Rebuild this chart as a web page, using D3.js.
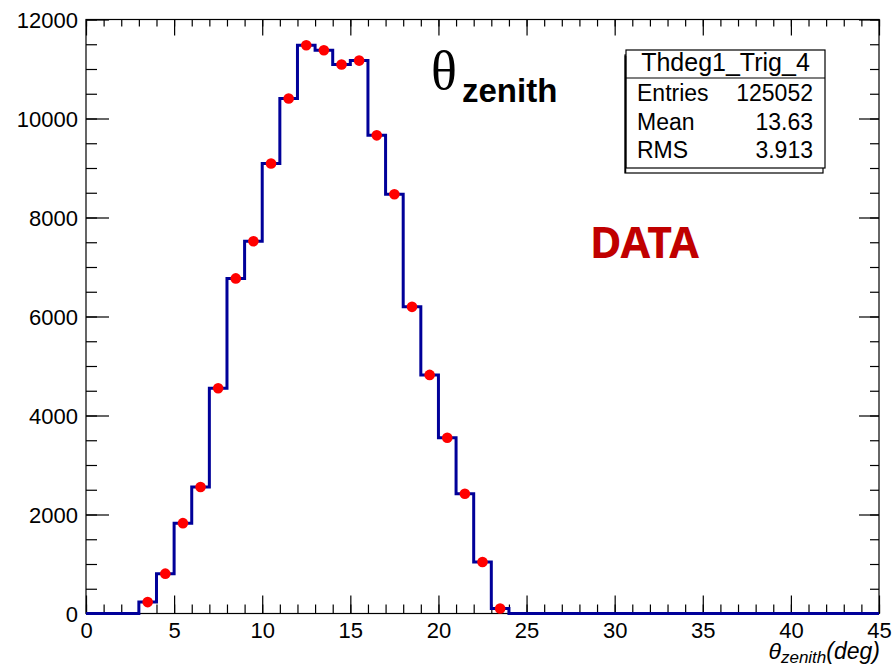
<!DOCTYPE html>
<html>
<head>
<meta charset="utf-8">
<script src="https://cdn.jsdelivr.net/npm/d3@7"></script>
<style>
  body { margin: 0; background: #fff; }
  text { font-family: "Liberation Sans", Arial, sans-serif; }
</style>
</head>
<body>
<div id="chart"></div>
<script>
// histogram: 45 bins of 1 degree, from 0 to 45
const binStart = 0
const binWidth = 1
const counts = [
  0, 0, 0, 230, 805, 1825, 2555, 4550, 6770, 7520,
  9090, 10405, 11480, 11380, 11090, 11170, 9660, 8470, 6195, 4820,
  3550, 2420, 1040, 100, 0, 0, 0, 0, 0, 0,
  0, 0, 0, 0, 0, 0, 0, 0, 0, 0,
  0, 0, 0, 0, 0
]
const xTicks = [0, 5, 10, 15, 20, 25, 30, 35, 40, 45]
const yTicks = [0, 2000, 4000, 6000, 8000, 10000, 12000]
const statLabels = ['Entries', 'Mean', 'RMS']
const statValues = ['125052', '13.63', '3.913']
const statTitle = 'Thdeg1_Trig_4'

const width = 893, height = 668
const padL = 86, padR = 879, padT = 19.5, padB = 613.5

const svg = d3.select('#chart')
  .append('svg')
  .attr('width', width)
  .attr('height', height)
  .style('background', '#fff')

const x = d3.scaleLinear().domain([0, 45]).range([padL, padR])
const y = d3.scaleLinear().domain([0, 12000]).range([padB, padT])

const minorX = d3.range(0, 46, 1)
const minorY = d3.range(0, 12001, 500)

// bottom axis, ticks pointing up
svg.append('g')
  .attr('transform', `translate(0,${padB})`)
  .call(d3.axisBottom(x).tickValues(minorX).tickSize(-9).tickFormat(''))
svg.append('g')
  .attr('transform', `translate(0,${padB})`)
  .call(d3.axisBottom(x).tickValues(xTicks).tickSize(-18).tickPadding(9).tickFormat(d3.format('d')))
// top ticks
svg.append('g')
  .attr('transform', `translate(0,${padT})`)
  .call(d3.axisTop(x).tickValues(minorX).tickSize(-7).tickFormat(''))
svg.append('g')
  .attr('transform', `translate(0,${padT})`)
  .call(d3.axisTop(x).tickValues(xTicks).tickSize(-16).tickFormat(''))

// left axis
svg.append('g')
  .attr('transform', `translate(${padL},0)`)
  .call(d3.axisLeft(y).tickValues(minorY).tickSize(-11).tickFormat(''))
svg.append('g')
  .attr('class', 'ymaj')
  .attr('transform', `translate(${padL},1)`)
  .call(d3.axisLeft(y).tickValues(yTicks).tickSize(-23).tickPadding(8).tickFormat(d3.format('d')))
// right ticks
svg.append('g')
  .attr('transform', `translate(${padR},0)`)
  .call(d3.axisRight(y).tickValues(minorY).tickSize(-9).tickFormat(''))
svg.append('g')
  .attr('transform', `translate(${padR},0)`)
  .call(d3.axisRight(y).tickValues(yTicks).tickSize(-20).tickFormat(''))

svg.selectAll('.domain').remove()
svg.selectAll('.tick line').attr('stroke', '#000').attr('stroke-width', 1.2)
// label ticks shifted by 1px, put their lines back
svg.selectAll('.ymaj .tick line').attr('transform', 'translate(0,-1)')
svg.selectAll('.tick text')
  .attr('fill', '#000')
  .style('font-size', '22px')
  .style('font-family', '"Liberation Sans", Arial, sans-serif')

// frame
svg.append('rect')
  .attr('x', padL).attr('y', padT)
  .attr('width', padR - padL).attr('height', padB - padT)
  .attr('fill', 'none')
  .attr('stroke', '#000')
  .attr('stroke-width', 1.2)

// histogram step line
const pts = [[binStart, 0]]
counts.forEach((c, i) => {
  const x0 = binStart + i * binWidth
  pts.push([x0, c], [x0 + binWidth, c])
})
pts.push([binStart + counts.length * binWidth, 0])

svg.append('path')
  .datum(pts)
  .attr('d', d3.line().x(d => x(d[0])).y(d => y(d[1])))
  .attr('fill', 'none')
  .attr('stroke', '#000099')
  .attr('stroke-width', 3)

// markers at bin centres
svg.selectAll('circle.pt')
  .data(counts.map((c, i) => ({ c, i })).filter(d => d.c > 0))
  .enter()
  .append('circle')
  .attr('class', 'pt')
  .attr('cx', d => x(binStart + (d.i + 0.5) * binWidth))
  .attr('cy', d => y(d.c))
  .attr('r', 5.3)
  .attr('fill', '#ff0000')

// stats box
const bx = 626, by = 50, bw = 199, bh = 118
svg.append('rect')
  .attr('x', bx - 1).attr('y', by + 5).attr('width', bw - 1).attr('height', bh)
  .attr('fill', '#fff').attr('stroke', '#000').attr('stroke-width', 1.2)
svg.append('rect')
  .attr('x', bx).attr('y', by).attr('width', bw).attr('height', bh)
  .attr('fill', '#fff').attr('stroke', '#000').attr('stroke-width', 1.2)
svg.append('line')
  .attr('x1', bx - 0.5).attr('x2', bx - 0.5).attr('y1', by + 6).attr('y2', by + bh + 5)
  .attr('stroke', '#000').attr('stroke-width', 1.5)
svg.append('line')
  .attr('x1', bx).attr('x2', bx + bw).attr('y1', 78).attr('y2', 78)
  .attr('stroke', '#000').attr('stroke-width', 1.2)
svg.append('text')
  .attr('x', bx + bw / 2).attr('y', 71)
  .attr('text-anchor', 'middle')
  .style('font-size', '25px')
  .text(statTitle)
statLabels.forEach((s, i) => {
  svg.append('text')
    .attr('x', 637).attr('y', 101 + i * 28.7)
    .style('font-size', '23px')
    .text(s)
  svg.append('text')
    .attr('x', 813).attr('y', 101 + i * 28.7)
    .attr('text-anchor', 'end')
    .style('font-size', '23px')
    .text(statValues[i])
})

// theta_zenith label
svg.append('text')
  .attr('x', 431).attr('y', 89)
  .style('font-family', '"Liberation Serif", "Times New Roman", serif')
  .style('font-size', '54px')
  .text('θ')
svg.append('text')
  .attr('x', 462).attr('y', 101.5)
  .style('font-size', '33px')
  .style('font-weight', 'bold')
  .text('zenith')

// DATA label
svg.append('text')
  .attr('x', 590).attr('y', 258)
  .style('font-family', '"Noto Sans", "Open Sans", sans-serif')
  .style('font-size', '43px')
  .style('font-weight', 'bold')
  .attr('fill', '#c00000')
  .text('DATA')

// x axis title
const xt = svg.append('text')
  .attr('x', 880).attr('y', 659)
  .attr('text-anchor', 'end')
  .style('font-style', 'italic')
  .style('font-size', '23px')
xt.append('tspan').text('θ')
xt.append('tspan').attr('dy', 4).style('font-size', '17px').text('zenith')
xt.append('tspan').attr('dy', -4).text('(deg)')
</script>
</body>
</html>
